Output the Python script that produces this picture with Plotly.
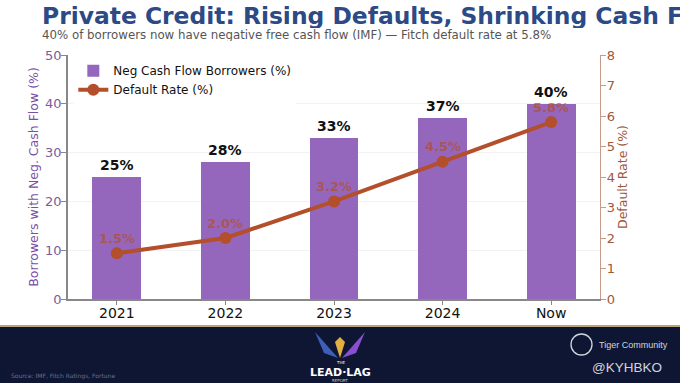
import plotly.graph_objects as go

categories = ["2021", "2022", "2023", "2024", "Now"]
neg_cash_flow = [25, 28, 33, 37, 40]
default_rate = [1.5, 2.0, 3.2, 4.5, 5.8]
left_ticks = [0, 10, 20, 30, 40, 50]
right_ticks = [0, 1, 2, 3, 4, 5, 6, 7, 8]

BAR = "#9467bd"
LINE = "#b34f2b"
FONT = "DejaVu Sans"

fig = go.Figure()
fig.add_trace(go.Bar(
    x=categories, y=neg_cash_flow, name="Neg Cash Flow Borrowers (%)",
    marker=dict(color=BAR, line=dict(width=0)), width=0.45, yaxis="y",
))
fig.add_trace(go.Scatter(
    x=categories, y=default_rate, name="Default Rate (%)", yaxis="y2",
    mode="lines+markers", line=dict(color=LINE, width=4),
    marker=dict(size=12, color=LINE),
))

annotations = []
for i, v in enumerate(neg_cash_flow):
    annotations.append(dict(x=i, y=v, xref="x", yref="y", text=f"<b>{v}%</b>",
                            showarrow=False, yshift=12,
                            font=dict(family=FONT, size=14, color="#111")))
for i, v in enumerate(default_rate):
    annotations.append(dict(x=i, y=v, xref="x", yref="y2", text=f"<b>{v:.1f}%</b>",
                            showarrow=False, yshift=15,
                            font=dict(family=FONT, size=13, color="rgba(179,79,43,0.72)")))


def px_x(x):
    return (x - 68) / 532


def px_y(y):
    return (299 - y) / 244


annotations += [
    dict(x=px_x(40), y=px_y(16), xref="paper", yref="paper", xanchor="left", yanchor="middle",
         text="<b>Private Credit: Rising Defaults, Shrinking Cash Flow</b>", showarrow=False,
         height=24, valign="middle",
         font=dict(family=FONT, size=23.4, color="#2b4a86")),
    dict(x=px_x(40), y=px_y(35), xref="paper", yref="paper", xanchor="left", yanchor="middle",
         text="40% of borrowers now have negative free cash flow (IMF) — Fitch default rate at 5.8%",
         showarrow=False, height=13, valign="middle",
         font=dict(family=FONT, size=11.8, color="#555")),
    dict(x=px_x(9), y=px_y(376), xref="paper", yref="paper", xanchor="left", yanchor="middle",
         text="Source: IMF, Fitch Ratings, Fortune", showarrow=False,
         font=dict(family=FONT, size=6, color="#6a7088")),
    dict(x=px_x(340), y=px_y(372), xref="paper", yref="paper", xanchor="center", yanchor="middle",
         text="<b>LEAD·LAG</b>", showarrow=False,
         font=dict(family=FONT, size=11, color="#ffffff")),
    dict(x=px_x(340), y=px_y(362), xref="paper", yref="paper", xanchor="center", yanchor="middle",
         text="THE", showarrow=False, font=dict(family=FONT, size=4, color="#ffffff")),
    dict(x=px_x(340), y=px_y(380.5), xref="paper", yref="paper", xanchor="center", yanchor="middle",
         text="REPORT", showarrow=False, font=dict(family=FONT, size=4, color="#cccccc")),
    dict(x=px_x(597), y=px_y(345), xref="paper", yref="paper", xanchor="left", yanchor="middle",
         text="Tiger Community", showarrow=False,
         font=dict(family="Liberation Sans", size=9, color="#d0d4dc")),
    dict(x=px_x(664), y=px_y(367), xref="paper", yref="paper", xanchor="right", yanchor="middle",
         text="@KYHBKO", showarrow=False,
         font=dict(family="Liberation Sans", size=13.5, color="#d0d4dc")),
]

shapes = [
    dict(type="rect", xref="paper", yref="paper", x0=px_x(0), x1=px_x(680), y0=px_y(383), y1=px_y(327),
         fillcolor="#0f1634", line=dict(width=0), layer="above"),
    dict(type="rect", xref="paper", yref="paper", x0=px_x(0), x1=px_x(680), y0=px_y(327), y1=px_y(325),
         fillcolor="#b9a57a", line=dict(width=0), layer="above"),
    # logo: wings and bird
    dict(type="path", xref="paper", yref="paper", layer="above",
         path=f"M {px_x(338)},{px_y(358)} L {px_x(315)},{px_y(332)} L {px_x(324)},{px_y(353)} Z",
         fillcolor="#3e5fb8", line=dict(width=0)),
    dict(type="path", xref="paper", yref="paper", layer="above",
         path=f"M {px_x(342)},{px_y(358)} L {px_x(365)},{px_y(332)} L {px_x(356)},{px_y(353)} Z",
         fillcolor="#8a4fd0", line=dict(width=0)),
    dict(type="path", xref="paper", yref="paper", layer="above",
         path=f"M {px_x(340)},{px_y(358)} L {px_x(335)},{px_y(342)} L {px_x(340)},{px_y(337)} L {px_x(345)},{px_y(342)} Z",
         fillcolor="#e0b040", line=dict(width=0)),
    # tiger icon circle
    dict(type="circle", xref="paper", yref="paper", layer="above",
         x0=px_x(571), x1=px_x(592), y0=px_y(355), y1=px_y(334),
         line=dict(color="#d0d4dc", width=1.3), fillcolor="rgba(0,0,0,0)"),
]

fig.update_layout(
    width=680, height=383,
    margin=dict(l=68, r=80, t=55, b=84),
    paper_bgcolor="white", plot_bgcolor="white",
    font=dict(family=FONT, size=13, color="#333"),
    showlegend=True,
    legend=dict(x=0.01, y=0.995, xanchor="left", yanchor="top",
                bgcolor="rgba(255,255,255,0.9)", bordercolor="rgba(0,0,0,0)",
                font=dict(family=FONT, size=12, color="#111"), tracegroupgap=0),
    xaxis=dict(type="category", range=[-0.45, 4.45], showgrid=False, showline=True,
               linecolor="#888", linewidth=1.5, ticks="outside", ticklen=4, tickcolor="#888",
               ticklabelstandoff=-4,
               tickfont=dict(family=FONT, size=14, color="#111")),
    yaxis=dict(range=[0, 50], tickvals=left_ticks, showgrid=True, gridcolor="#f2f2f2",
               showline=True, linecolor="#888", linewidth=1.5, ticks="outside", ticklen=5,
               tickcolor="#888", zeroline=False, ticklabelstandoff=-3,
               tickfont=dict(family=FONT, size=13, color="#7a5c9c"),
               title=dict(text="Borrowers with Neg. Cash Flow (%)", standoff=4,
                          font=dict(family=FONT, size=12.5, color="#7a4fa6"))),
    yaxis2=dict(range=[0, 8], tickvals=right_ticks, overlaying="y", side="right",
                showgrid=False, showline=True, linecolor="#c89a8a", linewidth=1.2,
                ticks="outside", ticklen=5, tickcolor="#c89a8a", zeroline=False,
                ticklabelstandoff=-2,
                tickfont=dict(family=FONT, size=13, color="#a0573a"),
                title=dict(text="Default Rate (%)", standoff=4,
                           font=dict(family=FONT, size=12.5, color="#a0573a"))),
    annotations=annotations,
    shapes=shapes,
    bargap=0,
)

fig.write_html("out.html", config={"displayModeBar": False},
               post_script="document.body.style.margin='0';document.body.style.overflow='hidden';")
